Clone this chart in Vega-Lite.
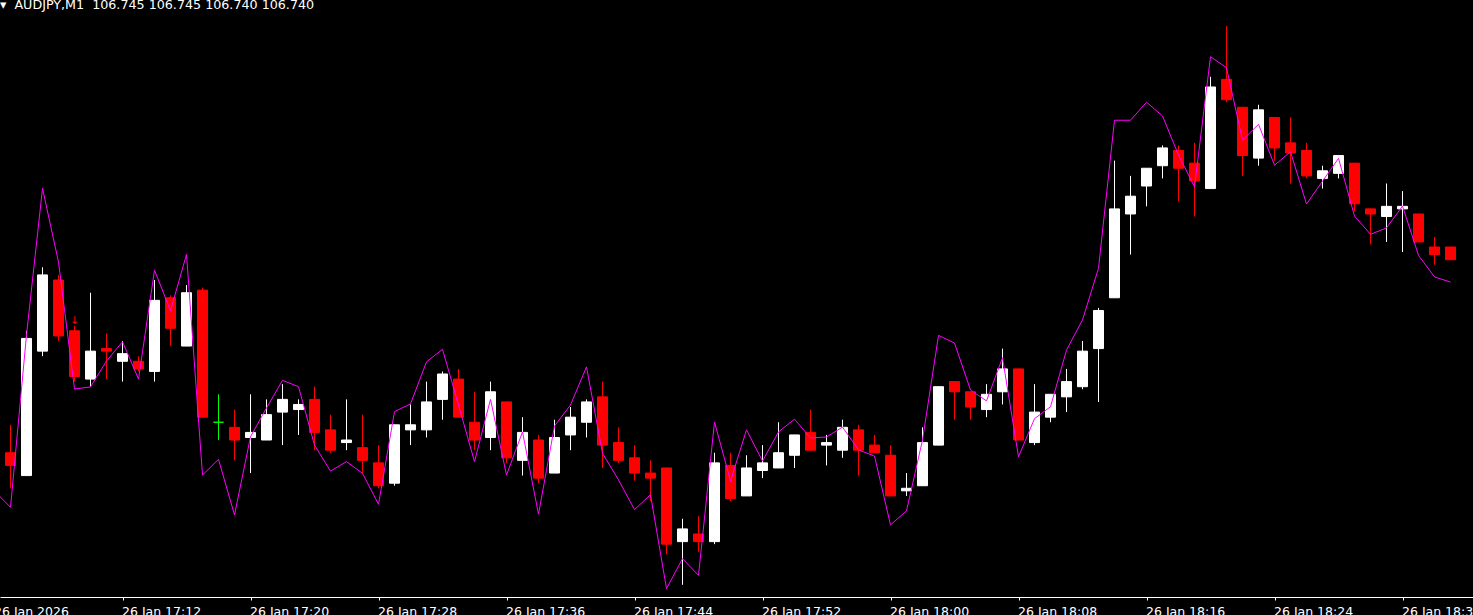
{
  "$schema": "https://vega.github.io/schema/vega-lite/v6.json",
  "width": 1473,
  "height": 597,
  "padding": {"top": 0, "left": 0, "right": 0, "bottom": 18},
  "autosize": {"type": "none"},
  "background": "#000000",
  "config": {"view": {"stroke": null}},
  "title": {
    "text": "▾\u00a0\u00a0AUDJPY,M1\u00a0\u00a0106.745 106.745 106.740 106.740",
    "anchor": "start",
    "frame": "group",
    "font": "DejaVu Sans",
    "fontSize": 12.7,
    "fontWeight": "normal",
    "color": "#ffffff",
    "baseline": "alphabetic",
    "offset": -21.5
  },
  "datasets": {
    "candles": [
      {"t": "2026-01-26 17:05", "open": 106.664, "high": 106.675, "low": 106.650, "close": 106.659, "dir": "down"},
      {"t": "2026-01-26 17:06", "open": 106.655, "high": 106.712, "low": 106.655, "close": 106.709, "dir": "up"},
      {"t": "2026-01-26 17:07", "open": 106.704, "high": 106.737, "low": 106.702, "close": 106.734, "dir": "up"},
      {"t": "2026-01-26 17:08", "open": 106.732, "high": 106.734, "low": 106.708, "close": 106.710, "dir": "down"},
      {"t": "2026-01-26 17:09", "open": 106.712, "high": 106.714, "low": 106.692, "close": 106.694, "dir": "down"},
      {"t": "2026-01-26 17:10", "open": 106.693, "high": 106.727, "low": 106.690, "close": 106.704, "dir": "up"},
      {"t": "2026-01-26 17:11", "open": 106.705, "high": 106.711, "low": 106.693, "close": 106.704, "dir": "down"},
      {"t": "2026-01-26 17:12", "open": 106.700, "high": 106.708, "low": 106.692, "close": 106.703, "dir": "up"},
      {"t": "2026-01-26 17:13", "open": 106.700, "high": 106.702, "low": 106.696, "close": 106.697, "dir": "down"},
      {"t": "2026-01-26 17:14", "open": 106.696, "high": 106.732, "low": 106.692, "close": 106.724, "dir": "up"},
      {"t": "2026-01-26 17:15", "open": 106.725, "high": 106.726, "low": 106.706, "close": 106.713, "dir": "down"},
      {"t": "2026-01-26 17:16", "open": 106.706, "high": 106.730, "low": 106.706, "close": 106.727, "dir": "up"},
      {"t": "2026-01-26 17:17", "open": 106.728, "high": 106.729, "low": 106.678, "close": 106.678, "dir": "down"},
      {"t": "2026-01-26 17:18", "open": 106.676, "high": 106.687, "low": 106.669, "close": 106.676, "dir": "doji"},
      {"t": "2026-01-26 17:19", "open": 106.674, "high": 106.681, "low": 106.661, "close": 106.669, "dir": "down"},
      {"t": "2026-01-26 17:20", "open": 106.670, "high": 106.687, "low": 106.656, "close": 106.672, "dir": "up"},
      {"t": "2026-01-26 17:21", "open": 106.669, "high": 106.685, "low": 106.669, "close": 106.679, "dir": "up"},
      {"t": "2026-01-26 17:22", "open": 106.680, "high": 106.691, "low": 106.667, "close": 106.685, "dir": "up"},
      {"t": "2026-01-26 17:23", "open": 106.681, "high": 106.685, "low": 106.671, "close": 106.683, "dir": "up"},
      {"t": "2026-01-26 17:24", "open": 106.685, "high": 106.690, "low": 106.665, "close": 106.672, "dir": "down"},
      {"t": "2026-01-26 17:25", "open": 106.673, "high": 106.679, "low": 106.664, "close": 106.665, "dir": "down"},
      {"t": "2026-01-26 17:26", "open": 106.668, "high": 106.685, "low": 106.665, "close": 106.669, "dir": "up"},
      {"t": "2026-01-26 17:27", "open": 106.666, "high": 106.679, "low": 106.656, "close": 106.661, "dir": "down"},
      {"t": "2026-01-26 17:28", "open": 106.660, "high": 106.667, "low": 106.650, "close": 106.651, "dir": "down"},
      {"t": "2026-01-26 17:29", "open": 106.652, "high": 106.675, "low": 106.651, "close": 106.675, "dir": "up"},
      {"t": "2026-01-26 17:30", "open": 106.673, "high": 106.683, "low": 106.667, "close": 106.675, "dir": "up"},
      {"t": "2026-01-26 17:31", "open": 106.673, "high": 106.692, "low": 106.670, "close": 106.684, "dir": "up"},
      {"t": "2026-01-26 17:32", "open": 106.685, "high": 106.696, "low": 106.677, "close": 106.695, "dir": "up"},
      {"t": "2026-01-26 17:33", "open": 106.693, "high": 106.697, "low": 106.678, "close": 106.678, "dir": "down"},
      {"t": "2026-01-26 17:34", "open": 106.676, "high": 106.688, "low": 106.665, "close": 106.669, "dir": "down"},
      {"t": "2026-01-26 17:35", "open": 106.670, "high": 106.692, "low": 106.665, "close": 106.688, "dir": "up"},
      {"t": "2026-01-26 17:36", "open": 106.684, "high": 106.684, "low": 106.660, "close": 106.662, "dir": "down"},
      {"t": "2026-01-26 17:37", "open": 106.661, "high": 106.678, "low": 106.655, "close": 106.672, "dir": "up"},
      {"t": "2026-01-26 17:38", "open": 106.669, "high": 106.671, "low": 106.652, "close": 106.654, "dir": "down"},
      {"t": "2026-01-26 17:39", "open": 106.656, "high": 106.677, "low": 106.656, "close": 106.670, "dir": "up"},
      {"t": "2026-01-26 17:40", "open": 106.671, "high": 106.682, "low": 106.665, "close": 106.678, "dir": "up"},
      {"t": "2026-01-26 17:41", "open": 106.676, "high": 106.685, "low": 106.670, "close": 106.684, "dir": "up"},
      {"t": "2026-01-26 17:42", "open": 106.686, "high": 106.692, "low": 106.658, "close": 106.667, "dir": "down"},
      {"t": "2026-01-26 17:43", "open": 106.668, "high": 106.674, "low": 106.660, "close": 106.661, "dir": "down"},
      {"t": "2026-01-26 17:44", "open": 106.662, "high": 106.667, "low": 106.653, "close": 106.656, "dir": "down"},
      {"t": "2026-01-26 17:45", "open": 106.656, "high": 106.661, "low": 106.645, "close": 106.654, "dir": "down"},
      {"t": "2026-01-26 17:46", "open": 106.658, "high": 106.658, "low": 106.624, "close": 106.628, "dir": "down"},
      {"t": "2026-01-26 17:47", "open": 106.629, "high": 106.638, "low": 106.612, "close": 106.634, "dir": "up"},
      {"t": "2026-01-26 17:48", "open": 106.632, "high": 106.639, "low": 106.625, "close": 106.629, "dir": "down"},
      {"t": "2026-01-26 17:49", "open": 106.629, "high": 106.664, "low": 106.628, "close": 106.660, "dir": "up"},
      {"t": "2026-01-26 17:50", "open": 106.659, "high": 106.664, "low": 106.645, "close": 106.646, "dir": "down"},
      {"t": "2026-01-26 17:51", "open": 106.647, "high": 106.663, "low": 106.647, "close": 106.658, "dir": "up"},
      {"t": "2026-01-26 17:52", "open": 106.657, "high": 106.667, "low": 106.654, "close": 106.660, "dir": "up"},
      {"t": "2026-01-26 17:53", "open": 106.658, "high": 106.676, "low": 106.658, "close": 106.664, "dir": "up"},
      {"t": "2026-01-26 17:54", "open": 106.663, "high": 106.671, "low": 106.658, "close": 106.671, "dir": "up"},
      {"t": "2026-01-26 17:55", "open": 106.672, "high": 106.681, "low": 106.665, "close": 106.665, "dir": "down"},
      {"t": "2026-01-26 17:56", "open": 106.667, "high": 106.671, "low": 106.659, "close": 106.668, "dir": "up"},
      {"t": "2026-01-26 17:57", "open": 106.665, "high": 106.677, "low": 106.662, "close": 106.674, "dir": "up"},
      {"t": "2026-01-26 17:58", "open": 106.673, "high": 106.675, "low": 106.655, "close": 106.665, "dir": "down"},
      {"t": "2026-01-26 17:59", "open": 106.667, "high": 106.671, "low": 106.664, "close": 106.664, "dir": "down"},
      {"t": "2026-01-26 18:00", "open": 106.663, "high": 106.667, "low": 106.647, "close": 106.647, "dir": "down"},
      {"t": "2026-01-26 18:01", "open": 106.649, "high": 106.656, "low": 106.647, "close": 106.650, "dir": "up"},
      {"t": "2026-01-26 18:02", "open": 106.651, "high": 106.674, "low": 106.651, "close": 106.668, "dir": "up"},
      {"t": "2026-01-26 18:03", "open": 106.667, "high": 106.690, "low": 106.667, "close": 106.690, "dir": "up"},
      {"t": "2026-01-26 18:04", "open": 106.692, "high": 106.692, "low": 106.677, "close": 106.688, "dir": "down"},
      {"t": "2026-01-26 18:05", "open": 106.688, "high": 106.688, "low": 106.677, "close": 106.682, "dir": "down"},
      {"t": "2026-01-26 18:06", "open": 106.681, "high": 106.691, "low": 106.678, "close": 106.687, "dir": "up"},
      {"t": "2026-01-26 18:07", "open": 106.688, "high": 106.705, "low": 106.683, "close": 106.697, "dir": "up"},
      {"t": "2026-01-26 18:08", "open": 106.697, "high": 106.697, "low": 106.669, "close": 106.669, "dir": "down"},
      {"t": "2026-01-26 18:09", "open": 106.668, "high": 106.691, "low": 106.667, "close": 106.680, "dir": "up"},
      {"t": "2026-01-26 18:10", "open": 106.678, "high": 106.687, "low": 106.676, "close": 106.687, "dir": "up"},
      {"t": "2026-01-26 18:11", "open": 106.686, "high": 106.697, "low": 106.680, "close": 106.692, "dir": "up"},
      {"t": "2026-01-26 18:12", "open": 106.690, "high": 106.708, "low": 106.689, "close": 106.704, "dir": "up"},
      {"t": "2026-01-26 18:13", "open": 106.705, "high": 106.721, "low": 106.684, "close": 106.720, "dir": "up"},
      {"t": "2026-01-26 18:14", "open": 106.725, "high": 106.779, "low": 106.725, "close": 106.760, "dir": "up"},
      {"t": "2026-01-26 18:15", "open": 106.758, "high": 106.773, "low": 106.742, "close": 106.765, "dir": "up"},
      {"t": "2026-01-26 18:16", "open": 106.769, "high": 106.776, "low": 106.761, "close": 106.776, "dir": "up"},
      {"t": "2026-01-26 18:17", "open": 106.777, "high": 106.785, "low": 106.772, "close": 106.784, "dir": "up"},
      {"t": "2026-01-26 18:18", "open": 106.783, "high": 106.785, "low": 106.763, "close": 106.776, "dir": "down"},
      {"t": "2026-01-26 18:19", "open": 106.778, "high": 106.786, "low": 106.757, "close": 106.771, "dir": "down"},
      {"t": "2026-01-26 18:20", "open": 106.768, "high": 106.812, "low": 106.768, "close": 106.808, "dir": "up"},
      {"t": "2026-01-26 18:21", "open": 106.811, "high": 106.832, "low": 106.802, "close": 106.803, "dir": "down"},
      {"t": "2026-01-26 18:22", "open": 106.800, "high": 106.800, "low": 106.773, "close": 106.781, "dir": "down"},
      {"t": "2026-01-26 18:23", "open": 106.780, "high": 106.801, "low": 106.777, "close": 106.799, "dir": "up"},
      {"t": "2026-01-26 18:24", "open": 106.796, "high": 106.796, "low": 106.779, "close": 106.784, "dir": "down"},
      {"t": "2026-01-26 18:25", "open": 106.786, "high": 106.796, "low": 106.770, "close": 106.782, "dir": "down"},
      {"t": "2026-01-26 18:26", "open": 106.783, "high": 106.786, "low": 106.772, "close": 106.773, "dir": "down"},
      {"t": "2026-01-26 18:27", "open": 106.772, "high": 106.777, "low": 106.768, "close": 106.775, "dir": "up"},
      {"t": "2026-01-26 18:28", "open": 106.774, "high": 106.781, "low": 106.772, "close": 106.781, "dir": "up"},
      {"t": "2026-01-26 18:29", "open": 106.778, "high": 106.778, "low": 106.759, "close": 106.762, "dir": "down"},
      {"t": "2026-01-26 18:30", "open": 106.760, "high": 106.760, "low": 106.746, "close": 106.758, "dir": "down"},
      {"t": "2026-01-26 18:31", "open": 106.757, "high": 106.770, "low": 106.747, "close": 106.761, "dir": "up"},
      {"t": "2026-01-26 18:32", "open": 106.760, "high": 106.767, "low": 106.743, "close": 106.761, "dir": "up"},
      {"t": "2026-01-26 18:33", "open": 106.758, "high": 106.758, "low": 106.747, "close": 106.747, "dir": "down"},
      {"t": "2026-01-26 18:34", "open": 106.745, "high": 106.749, "low": 106.738, "close": 106.742, "dir": "down"},
      {"t": "2026-01-26 18:35", "open": 106.745, "high": 106.745, "low": 106.740, "close": 106.740, "dir": "down"}
    ],
    "ma": [
      {"t": "2026-01-26 17:04", "v": 106.6489},
      {"t": "2026-01-26 17:05", "v": 106.6425},
      {"t": "2026-01-26 17:06", "v": 106.7104},
      {"t": "2026-01-26 17:07", "v": 106.7681},
      {"t": "2026-01-26 17:08", "v": 106.7391},
      {"t": "2026-01-26 17:09", "v": 106.6891},
      {"t": "2026-01-26 17:10", "v": 106.6899},
      {"t": "2026-01-26 17:11", "v": 106.7001},
      {"t": "2026-01-26 17:12", "v": 106.7077},
      {"t": "2026-01-26 17:13", "v": 106.6930},
      {"t": "2026-01-26 17:14", "v": 106.7359},
      {"t": "2026-01-26 17:15", "v": 106.7199},
      {"t": "2026-01-26 17:16", "v": 106.7421},
      {"t": "2026-01-26 17:17", "v": 106.6552},
      {"t": "2026-01-26 17:18", "v": 106.6614},
      {"t": "2026-01-26 17:19", "v": 106.6395},
      {"t": "2026-01-26 17:20", "v": 106.6703},
      {"t": "2026-01-26 17:21", "v": 106.6816},
      {"t": "2026-01-26 17:22", "v": 106.6925},
      {"t": "2026-01-26 17:23", "v": 106.6900},
      {"t": "2026-01-26 17:24", "v": 106.6670},
      {"t": "2026-01-26 17:25", "v": 106.6568},
      {"t": "2026-01-26 17:26", "v": 106.6605},
      {"t": "2026-01-26 17:27", "v": 106.6559},
      {"t": "2026-01-26 17:28", "v": 106.6437},
      {"t": "2026-01-26 17:29", "v": 106.6802},
      {"t": "2026-01-26 17:30", "v": 106.6832},
      {"t": "2026-01-26 17:31", "v": 106.6998},
      {"t": "2026-01-26 17:32", "v": 106.7047},
      {"t": "2026-01-26 17:33", "v": 106.6828},
      {"t": "2026-01-26 17:34", "v": 106.6605},
      {"t": "2026-01-26 17:35", "v": 106.6850},
      {"t": "2026-01-26 17:36", "v": 106.6552},
      {"t": "2026-01-26 17:37", "v": 106.6722},
      {"t": "2026-01-26 17:38", "v": 106.6398},
      {"t": "2026-01-26 17:39", "v": 106.6745},
      {"t": "2026-01-26 17:40", "v": 106.6828},
      {"t": "2026-01-26 17:41", "v": 106.6978},
      {"t": "2026-01-26 17:42", "v": 106.6638},
      {"t": "2026-01-26 17:43", "v": 106.6533},
      {"t": "2026-01-26 17:44", "v": 106.6416},
      {"t": "2026-01-26 17:45", "v": 106.6475},
      {"t": "2026-01-26 17:46", "v": 106.6105},
      {"t": "2026-01-26 17:47", "v": 106.6223},
      {"t": "2026-01-26 17:48", "v": 106.6157},
      {"t": "2026-01-26 17:49", "v": 106.6761},
      {"t": "2026-01-26 17:50", "v": 106.6529},
      {"t": "2026-01-26 17:51", "v": 106.6730},
      {"t": "2026-01-26 17:52", "v": 106.6607},
      {"t": "2026-01-26 17:53", "v": 106.6722},
      {"t": "2026-01-26 17:54", "v": 106.6772},
      {"t": "2026-01-26 17:55", "v": 106.6698},
      {"t": "2026-01-26 17:56", "v": 106.6702},
      {"t": "2026-01-26 17:57", "v": 106.6741},
      {"t": "2026-01-26 17:58", "v": 106.6651},
      {"t": "2026-01-26 17:59", "v": 106.6627},
      {"t": "2026-01-26 18:00", "v": 106.6356},
      {"t": "2026-01-26 18:01", "v": 106.6411},
      {"t": "2026-01-26 18:02", "v": 106.6690},
      {"t": "2026-01-26 18:03", "v": 106.7102},
      {"t": "2026-01-26 18:04", "v": 106.7072},
      {"t": "2026-01-26 18:05", "v": 106.6887},
      {"t": "2026-01-26 18:06", "v": 106.6844},
      {"t": "2026-01-26 18:07", "v": 106.7014},
      {"t": "2026-01-26 18:08", "v": 106.6624},
      {"t": "2026-01-26 18:09", "v": 106.6774},
      {"t": "2026-01-26 18:10", "v": 106.6821},
      {"t": "2026-01-26 18:11", "v": 106.7044},
      {"t": "2026-01-26 18:12", "v": 106.7163},
      {"t": "2026-01-26 18:13", "v": 106.7366},
      {"t": "2026-01-26 18:14", "v": 106.7949},
      {"t": "2026-01-26 18:15", "v": 106.7949},
      {"t": "2026-01-26 18:16", "v": 106.8020},
      {"t": "2026-01-26 18:17", "v": 106.7966},
      {"t": "2026-01-26 18:18", "v": 106.7812},
      {"t": "2026-01-26 18:19", "v": 106.7687},
      {"t": "2026-01-26 18:20", "v": 106.8199},
      {"t": "2026-01-26 18:21", "v": 106.8156},
      {"t": "2026-01-26 18:22", "v": 106.7871},
      {"t": "2026-01-26 18:23", "v": 106.7933},
      {"t": "2026-01-26 18:24", "v": 106.7772},
      {"t": "2026-01-26 18:25", "v": 106.7825},
      {"t": "2026-01-26 18:26", "v": 106.7619},
      {"t": "2026-01-26 18:27", "v": 106.7709},
      {"t": "2026-01-26 18:28", "v": 106.7799},
      {"t": "2026-01-26 18:29", "v": 106.7572},
      {"t": "2026-01-26 18:30", "v": 106.7500},
      {"t": "2026-01-26 18:31", "v": 106.7525},
      {"t": "2026-01-26 18:32", "v": 106.7611},
      {"t": "2026-01-26 18:33", "v": 106.7417},
      {"t": "2026-01-26 18:34", "v": 106.7332},
      {"t": "2026-01-26 18:35", "v": 106.7312}
    ],
    "signals": [
      {"t": "2026-01-26 17:09", "price": 106.716, "symbol": "↓"}
    ]
  },
  "encoding": {
    "x": {
      "field": "t",
      "type": "temporal",
      "scale": {
        "domain": [
          {"year": 2026, "month": 1, "date": 26, "hours": 17, "minutes": 4, "seconds": 20, "milliseconds": 625},
          {"year": 2026, "month": 1, "date": 26, "hours": 18, "minutes": 36, "seconds": 24, "milliseconds": 375}
        ],
        "nice": false,
        "padding": 0
      },
      "axis": {
        "values": [
          {"year": 2026, "month": 1, "date": 26, "hours": 17, "minutes": 5},
          {"year": 2026, "month": 1, "date": 26, "hours": 17, "minutes": 12},
          {"year": 2026, "month": 1, "date": 26, "hours": 17, "minutes": 20},
          {"year": 2026, "month": 1, "date": 26, "hours": 17, "minutes": 28},
          {"year": 2026, "month": 1, "date": 26, "hours": 17, "minutes": 36},
          {"year": 2026, "month": 1, "date": 26, "hours": 17, "minutes": 44},
          {"year": 2026, "month": 1, "date": 26, "hours": 17, "minutes": 52},
          {"year": 2026, "month": 1, "date": 26, "hours": 18, "minutes": 0},
          {"year": 2026, "month": 1, "date": 26, "hours": 18, "minutes": 8},
          {"year": 2026, "month": 1, "date": 26, "hours": 18, "minutes": 16},
          {"year": 2026, "month": 1, "date": 26, "hours": 18, "minutes": 24},
          {"year": 2026, "month": 1, "date": 26, "hours": 18, "minutes": 32}
        ],
        "labelExpr": "timeFormat(datum.value, '%H:%M') === '17:05' ? '26 Jan 2026' : timeFormat(datum.value, '%d %b %H:%M')",
        "labelOffset": {"condition": {"test": "timeFormat(datum.value, '%H:%M') === '17:05'", "value": -17}, "value": -1},
        "tickOpacity": {"condition": {"test": "timeFormat(datum.value, '%H:%M') === '17:05'", "value": 0}, "value": 1},
        "title": null,
        "grid": false,
        "labelAlign": "left",
        "labelBaseline": "top",
        "labelPadding": 5,
        "labelFlush": false,
        "labelOverlap": false,
        "labelBound": false,
        "labelFont": "DejaVu Sans",
        "labelFontSize": 12.5,
        "labelColor": "#ffffff",
        "tickColor": "#ffffff",
        "tickSize": 3,
        "domainColor": "#ffffff"
      }
    }
  },
  "layer": [
    {
      "data": {"name": "candles"},
      "mark": {"type": "rule", "strokeWidth": 1},
      "encoding": {
        "y": {"field": "low", "type": "quantitative", "scale": {"domain": [106.6072, 106.84224], "nice": false, "zero": false}, "axis": null},
        "y2": {"field": "high"},
        "color": {"field": "dir", "type": "nominal", "scale": {"domain": ["up", "down", "doji"], "range": ["#ffffff", "#ff0000", "#00ff00"]}, "legend": null}
      }
    },
    {
      "data": {"name": "candles"},
      "mark": {"type": "bar", "size": 10, "strokeWidth": 1},
      "encoding": {
        "y": {"field": "open", "type": "quantitative", "scale": {"domain": [106.6072, 106.84224], "nice": false, "zero": false}, "axis": null},
        "y2": {"field": "close"},
        "color": {"field": "dir", "type": "nominal", "scale": {"domain": ["up", "down", "doji"], "range": ["#ffffff", "#ff0000", "#00ff00"]}, "legend": null},
        "stroke": {"field": "dir", "type": "nominal", "scale": {"domain": ["up", "down", "doji"], "range": ["#ffffff", "#ff0000", "#00ff00"]}, "legend": null}
      }
    },
    {
      "data": {"name": "ma"},
      "mark": {"type": "line", "strokeWidth": 1, "color": "#ff00ff"},
      "encoding": {
        "y": {"field": "v", "type": "quantitative", "scale": {"domain": [106.6072, 106.84224], "nice": false, "zero": false}, "axis": null}
      }
    },
    {
      "data": {"name": "signals"},
      "mark": {"type": "text", "color": "#ff0000", "fontSize": 11, "font": "DejaVu Sans", "baseline": "middle", "align": "center"},
      "encoding": {
        "y": {"field": "price", "type": "quantitative", "scale": {"domain": [106.6072, 106.84224], "nice": false, "zero": false}, "axis": null},
        "text": {"field": "symbol"}
      }
    }
  ]
}
